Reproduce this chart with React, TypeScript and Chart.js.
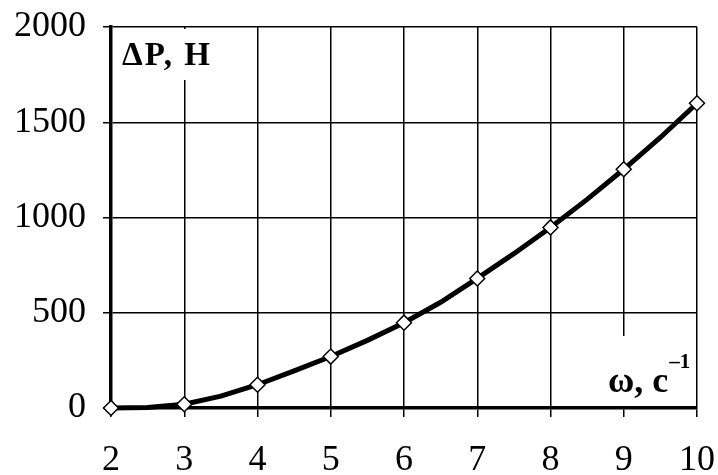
import React, { useEffect, useRef } from "react";
import { Chart, registerables } from "chart.js";

Chart.register(...registerables);

const omegaLine = [2, 2.5, 3, 3.5, 4, 4.5, 5, 5.5, 6, 6.5, 7, 7.5, 8, 8.5, 9, 9.5, 10];
const deltaPLine = [0, 3, 20, 62, 122, 195, 270, 355, 448, 555, 680, 810, 948, 1095, 1253, 1420, 1600];
const omegaMarks = [2, 3, 4, 5, 6, 7, 8, 9, 10];
const deltaPMarks = [0, 20, 122, 270, 448, 680, 948, 1253, 1600];
const yTicks = [0, 500, 1000, 1500, 2000];
const xTicks = [2, 3, 4, 5, 6, 7, 8, 9, 10];
const yLabel = "ΔP, Н";
const xLabelMain = "ω, с";
const xLabelSup = "–1";

const SERIF = "'Liberation Serif', 'DejaVu Serif', serif";

const labelsPlugin = {
  id: "axisLabels",
  beforeDatasetsDraw(chart: any) {
    const { ctx, chartArea } = chart;
    ctx.save();
    ctx.fillStyle = "#fff";
    ctx.fillRect(chartArea.left + 2, chartArea.top + 2, 118, 51);
    ctx.fillRect(chartArea.right - 97, chartArea.bottom - 72, 96, 70);
    ctx.fillStyle = "#000";
    ctx.textBaseline = "alphabetic";
    ctx.textAlign = "left";
    ctx.font = `bold 33px ${SERIF}`;
    (ctx as any).letterSpacing = "2px";
    ctx.fillText(yLabel, chartArea.left + 11, chartArea.top + 38);
    ctx.font = `bold 36px ${SERIF}`;
    (ctx as any).letterSpacing = "0px";
    const w = ctx.measureText(xLabelMain).width;
    const x0 = chartArea.right - 89;
    ctx.fillText(xLabelMain, x0, chartArea.bottom - 16);
    ctx.font = `bold 21px ${SERIF}`;
    ctx.fillText(xLabelSup, x0 + w + 1, chartArea.bottom - 40);
    ctx.restore();
  },
};

export default function App() {
  const ref = useRef<HTMLCanvasElement>(null);
  useEffect(() => {
    const chart = new Chart(ref.current!, {
      type: "scatter",
      data: {
        datasets: [
          {
            data: omegaMarks.map((x, i) => ({ x, y: deltaPMarks[i] })),
            showLine: false,
            pointStyle: "rectRot",
            pointRadius: 7.5,
            pointBackgroundColor: "#fff",
            pointBorderColor: "#000",
            pointBorderWidth: 1.5,
            clip: false,
          },
          {
            data: omegaLine.map((x, i) => ({ x, y: deltaPLine[i] })),
            showLine: true,
            borderColor: "#000",
            borderWidth: 5,
            pointRadius: 0,
            tension: 0,
            clip: false,
          },
        ],
      },
      options: {
        animation: false,
        responsive: false,
        maintainAspectRatio: false,
        layout: { padding: { top: 27, right: 21, left: 0, bottom: 0 } },
        plugins: { legend: { display: false }, tooltip: { enabled: false } },
        scales: {
          x: {
            type: "linear",
            min: 2,
            max: 10,
            afterBuildTicks: (s: any) => {
              s.ticks = xTicks.map((v) => ({ value: v }));
            },
            afterFit: (s: any) => {
              s.height = 67;
              s.paddingLeft = 0;
              s.paddingRight = 0;
            },
            ticks: {
              color: "#000",
              font: { family: SERIF, size: 36 },
              padding: 22,
              callback: (v: any) => String(v),
            },
            grid: { color: "#000", lineWidth: 1.5, tickLength: 9, drawTicks: true },
            border: { color: "#000", width: 3.5 },
          },
          y: {
            type: "linear",
            min: 0,
            max: 2000,
            afterBuildTicks: (s: any) => {
              s.ticks = yTicks.map((v) => ({ value: v }));
            },
            afterFit: (s: any) => {
              s.width = 111;
              s.paddingTop = 0;
              s.paddingBottom = 0;
            },
            ticks: {
              color: "#000",
              font: { family: SERIF, size: 36 },
              padding: 17,
              callback: (v: any) => String(v),
            },
            grid: { color: "#000", lineWidth: 1.5, tickLength: 8, drawTicks: true },
            border: { color: "#000", width: 3.5 },
          },
        },
      },
      plugins: [labelsPlugin],
    } as any);
    return () => chart.destroy();
  }, []);
  return (
    <div style={{ position: "fixed", left: 0, top: 0, width: 718, height: 475, background: "#fff" }}>
      <canvas ref={ref} width={718} height={475} style={{ width: 718, height: 475 }} />
    </div>
  );
}
